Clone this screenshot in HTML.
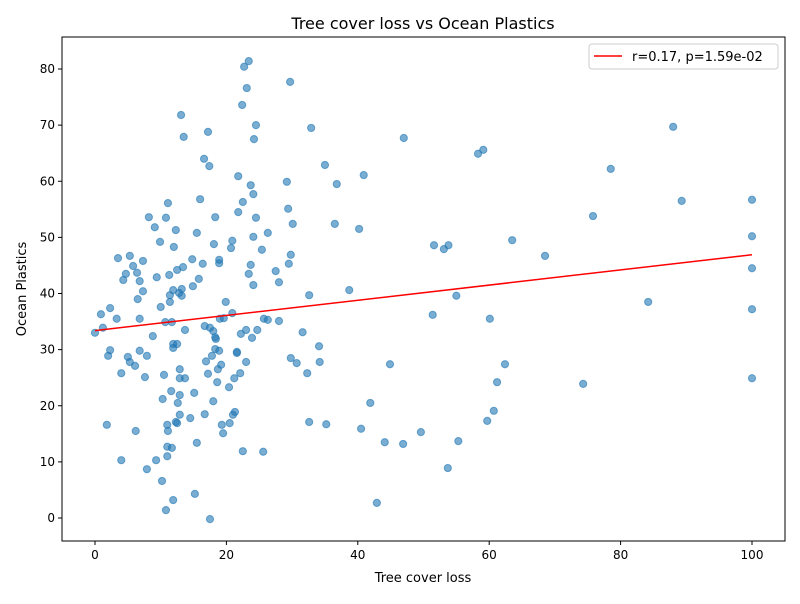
<!DOCTYPE html>
<html><head><meta charset="utf-8"><style>
body{margin:0;background:#fff;font-family:"DejaVu Sans","Liberation Sans",sans-serif}
svg text{font-family:"DejaVu Sans","Liberation Sans",sans-serif}
</style></head><body>
<svg id="chart" width="800" height="600" xmlns="http://www.w3.org/2000/svg">
<rect width="800" height="600" fill="#fff"/>
<g id="plot"></g>
</svg>
<script>
const xVals=[0,0.9,1.2,1.8,2.0,2.3,2.3,3.3,3.5,4.0,4.0,4.3,4.7,5.0,5.3,5.3,5.8,6.1,6.2,6.4,6.5,6.8,6.8,6.8,7.3,7.3,7.6,7.9,7.9,8.2,8.8,9.1,9.3,9.4,9.9,
10,10.2,10.3,10.5,10.7,10.8,10.8,11.0,11.0,11.0,11.1,11.1,11.3,11.4,11.4,11.6,11.7,11.9,11.7,11.9,11.9,11.9,12.0,12.3,12.5,12.5,12.3,12.5,12.6,12.8,12.9,12.9,12.9,13.1,12.9,13.2,13.2,13.4,13.5,13.7,13.7,14.5,14.8,14.9,15.1,15.2,15.5,15.5,15.8,16.0,16.4,16.6,16.7,16.7,16.9,17.2,17.2,17.4,17.5,17.5,17.8,18.0,18.0,18.1,18.3,18.3,18.3,18.4,18.6,18.7,18.9,18.9,18.9,19.0,19.2,19.3,19.5,19.6,19.9,
20.4,20.5,20.7,20.9,21.0,21.2,21.3,20.9,21.6,21.6,21.8,21.8,22.1,22.2,22.4,22.5,22.5,22.7,23.0,23.0,23.1,23.4,23.4,23.7,23.7,23.9,24.1,24.1,24.1,24.2,24.5,24.5,24.7,25.4,25.6,25.7,26.3,26.3,27.5,28.0,28.0,29.2,29.4,29.5,29.7,29.8,29.8,30.1,
30.7,31.6,32.3,32.6,32.6,32.9,34.1,34.2,35.0,35.2,36.5,36.8,38.7,40.2,40.5,40.9,41.9,
42.9,44.1,44.9,47.0,46.9,49.6,51.4,51.6,53.1,53.8,53.7,55.0,55.3,58.3,59.1,59.7,60.1,60.7,61.2,62.4,63.5,68.5,74.3,75.8,78.5,84.2,88.0,89.3,100,100,100,100,100];
const yVals=[33.0,36.3,33.9,16.6,28.9,37.4,29.9,35.5,46.3,25.8,10.3,42.4,43.5,28.7,46.7,27.8,44.9,27.1,15.5,43.7,39.0,42.2,29.8,35.5,40.4,45.8,25.1,28.9,8.7,53.6,32.4,51.8,10.3,42.9,49.2,
37.6,6.6,21.2,25.5,34.9,53.5,1.4,16.6,12.7,11.0,56.1,15.5,43.3,38.5,39.7,22.6,12.5,3.2,34.9,31.0,30.3,40.6,48.3,51.3,31.0,16.9,17.1,44.2,20.5,40.1,26.5,21.9,24.9,71.8,18.4,40.8,39.6,44.7,67.9,33.5,24.9,17.8,46.1,41.3,22.3,4.3,50.8,13.4,42.6,56.8,45.3,64.0,34.2,18.5,27.9,68.8,25.7,62.7,-0.2,33.9,28.9,33.3,20.8,48.8,53.6,32.2,30.1,31.9,24.2,26.5,29.8,45.4,46.0,35.5,27.3,16.6,15.1,35.6,38.5,
23.3,16.9,48.1,49.4,18.4,24.9,18.9,36.5,29.4,29.6,60.9,54.5,25.8,32.8,73.6,11.9,56.3,80.4,33.5,27.8,76.6,81.4,43.5,59.3,45.1,32.1,57.7,50.1,41.5,67.5,70.0,53.5,33.5,47.8,11.8,35.5,50.8,35.3,44.0,42.0,35.1,59.9,55.1,45.3,77.7,46.9,28.5,52.4,
27.6,33.1,25.8,39.7,17.1,69.5,30.6,27.8,62.9,16.7,52.4,59.5,40.6,51.5,15.9,61.1,20.5,
2.7,13.5,27.4,67.7,13.2,15.3,36.2,48.6,47.9,48.6,8.9,39.6,13.7,64.9,65.6,17.3,35.5,19.1,24.2,27.4,49.5,46.7,23.9,53.8,62.2,38.5,69.7,56.5,56.7,50.2,44.5,37.2,24.9];
const xTicks=[0,20,40,60,80,100];
const yTicks=[0,10,20,30,40,50,60,70,80];
const legendLabel="r=0.17, p=1.59e-02";

const L=62,R=785,T=37,B=541;
const sx=v=>95+v*6.57, sy=v=>518-v*5.6125;
const g=document.getElementById('plot');
const NS="http://www.w3.org/2000/svg";
function mk(tag,at,parent){const e=document.createElementNS(NS,tag);for(const k in at)e.setAttribute(k,at[k]);(parent||g).appendChild(e);return e;}

xVals.forEach((x,i)=>{
 const c=mk('circle',{cx:sx(x),cy:sy(yVals[i]),r:3.6,fill:'#1f77b4','fill-opacity':0.6,stroke:'#1f77b4','stroke-opacity':0.6,'stroke-width':1});
 
 
});
// regression
const n=xVals.length;let mx=0,my=0;xVals.forEach((x,i)=>{mx+=x;my+=yVals[i];});mx/=n;my/=n;
let sxy=0,sxx=0;xVals.forEach((x,i)=>{sxy+=(x-mx)*(yVals[i]-my);sxx+=(x-mx)*(x-mx);});
const slope=sxy/sxx,icpt=my-slope*mx;
const xmin=Math.min(...xVals),xmax=Math.max(...xVals);
const ln=mk('line',{x1:sx(xmin),y1:sy(icpt+slope*xmin),x2:sx(xmax),y2:sy(icpt+slope*xmax),stroke:'#ff0000','stroke-width':1.5});


// frame
const fr=mk('rect',{x:L,y:T,width:R-L,height:B-T,fill:'none',stroke:'#000','stroke-width':1});


xTicks.forEach(t=>{
 mk('line',{x1:sx(t),x2:sx(t),y1:B,y2:B+4,stroke:'#000'});
 const tx=mk('text',{x:sx(t),y:B+18,'text-anchor':'middle','font-size':12,fill:'#000'});tx.textContent=t;
 
 
});
yTicks.forEach(t=>{
 mk('line',{x1:L-4,x2:L,y1:sy(t),y2:sy(t),stroke:'#000'});
 const tx=mk('text',{x:L-7,y:sy(t)+4,'text-anchor':'end','font-size':12,fill:'#000'});tx.textContent=t;
 
 
});
const xt=mk('text',{x:423,y:582,'text-anchor':'middle','font-size':13});xt.textContent='Tree cover loss';


const yt=mk('text',{x:26,y:289,'text-anchor':'middle','font-size':13,transform:'rotate(-90 26 289)'});yt.textContent='Ocean Plastics';


const tt=mk('text',{x:423,y:29,'text-anchor':'middle','font-size':16});tt.textContent='Tree cover loss vs Ocean Plastics';


const lg=mk('g',{});


mk('rect',{x:589,y:44,width:189,height:25,rx:3,fill:'#fff','fill-opacity':0.8,stroke:'#ccc'},lg);
mk('line',{x1:594,x2:622,y1:56,y2:56,stroke:'#ff0000','stroke-width':1.5},lg);
const lt=mk('text',{x:632,y:61,'font-size':13},lg);lt.textContent=legendLabel;


</script>
</body></html>
